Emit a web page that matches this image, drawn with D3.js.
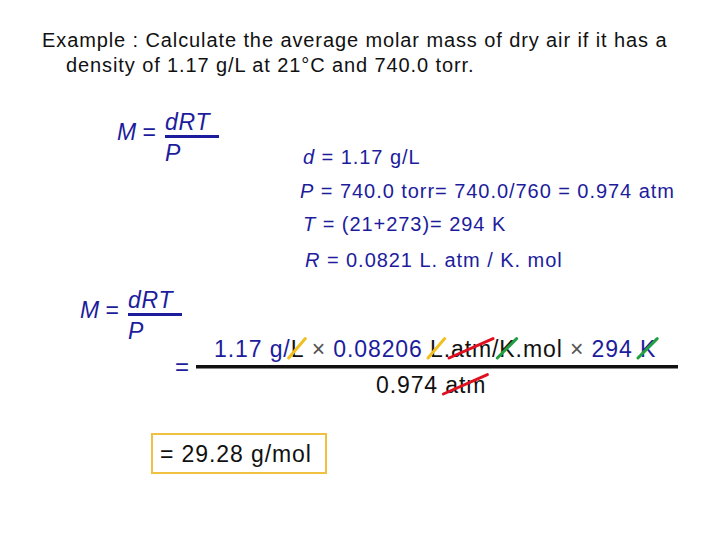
<!DOCTYPE html>
<html><head><meta charset="utf-8">
<script src="https://cdn.jsdelivr.net/npm/d3@7"></script>
<style>body{margin:0;background:#fff}text{font-family:"Liberation Sans",Arial,sans-serif}</style>
</head><body>
<svg width="720" height="540"></svg>
<script>
const navy = '#1c1c9c';
const titleLines = ['Example : Calculate the average molar mass of dry air if it has a',
                    'density of 1.17 g/L at 21\u00b0C and 740.0 torr.'];
const givens = [
  [['d', true], [' = 1.17 g/L', false]],
  [['P', true], [' = 740.0 torr= 740.0/760 = 0.974 atm', false]],
  [['T', true], [' = (21+273)= 294 K', false]],
  [['R', true], [' = 0.0821 L. atm / K. mol', false]]
];
// numerator segments: text, colour, strike colour
const numerator = [
  ['1.17 g/', navy, null], ['L', '#111', '#f0c020'], [' \u00d7 ', '#555', null],
  ['0.08206 ', navy, null], ['L', '#111', '#f0c020'], ['.', '#111', null],
  ['atm', '#111', '#e01020'], ['/', '#111', null], ['K', '#111', '#20a040'],
  ['.mol', '#111', null], [' \u00d7 ', '#555', null], ['294 ', navy, null], ['K', navy, '#20a040']
];
const denominator = [['0.974 ', '#111', null], ['atm', '#111', '#e01020']];
const answer = '= 29.28 g/mol';

const svg = d3.select('svg');

svg.selectAll('text.title').data(titleLines).join('text').attr('class', 'title')
  .attr('x', (d, i) => i ? 66 : 42).attr('y', (d, i) => 47 + i * 25)
  .attr('font-size', 20).attr('letter-spacing', 0.9).attr('fill', '#111').text(d => d);

function formula(x, y, size) {
  const g = svg.append('g');
  g.append('text').attr('x', x).attr('y', y + 10).attr('font-size', size).attr('fill', navy)
    .attr('font-style', 'italic').text('M').append('tspan').attr('font-style', 'normal').text(' =');
  const nx = x + 48;
  g.append('text').attr('x', nx).attr('y', y).attr('font-size', size).attr('fill', navy)
    .attr('font-style', 'italic').attr('letter-spacing', 0.8).text('dRT');
  g.append('rect').attr('x', nx).attr('y', y + 5).attr('width', 54).attr('height', 3).attr('fill', navy);
  g.append('text').attr('x', nx).attr('y', y + 31).attr('font-size', size).attr('fill', navy)
    .attr('font-style', 'italic').text('P');
}
formula(117, 130, 23);
formula(80, 308, 23);

const gy = [164, 198, 231, 267], gx = [303, 300, 303, 305];
givens.forEach((line, i) => {
  const t = svg.append('text').attr('x', gx[i]).attr('y', gy[i]).attr('font-size', 20)
    .attr('letter-spacing', 0.95).attr('fill', navy);
  line.forEach(([s, it]) => t.append('tspan').attr('font-style', it ? 'italic' : 'normal').text(s));
});

function segments(list, x, y, size) {
  let cx = x;
  list.forEach(([s, col, strike]) => {
    const t = svg.append('text').attr('x', cx).attr('y', y).attr('font-size', size)
      .attr('letter-spacing', 0.9).attr('fill', col).style('white-space', 'pre').text(s);
    const w = t.node().getComputedTextLength();
    if (strike) {
      svg.append('line').attr('x1', cx - 2).attr('y1', y + 1).attr('x2', cx + w + 1).attr('y2', y - size * 0.8)
        .attr('stroke', strike).attr('stroke-width', 3).attr('stroke-linecap', 'round');
    }
    cx += w;
  });
}
segments(numerator, 214, 357, 23);
svg.append('text').attr('x', 175).attr('y', 375).attr('font-size', 24).attr('fill', navy).text('=');
svg.append('rect').attr('x', 196).attr('y', 365).attr('width', 482).attr('height', 3.5).attr('fill', '#111');
segments(denominator, 376, 393, 23);

svg.append('rect').attr('x', 152).attr('y', 434).attr('width', 174).attr('height', 39)
  .attr('fill', 'none').attr('stroke', '#f0c040').attr('stroke-width', 2);
svg.append('text').attr('x', 160).attr('y', 462).attr('font-size', 23).attr('letter-spacing', 0.9)
  .attr('fill', '#111').text(answer);
</script>
</body></html>
